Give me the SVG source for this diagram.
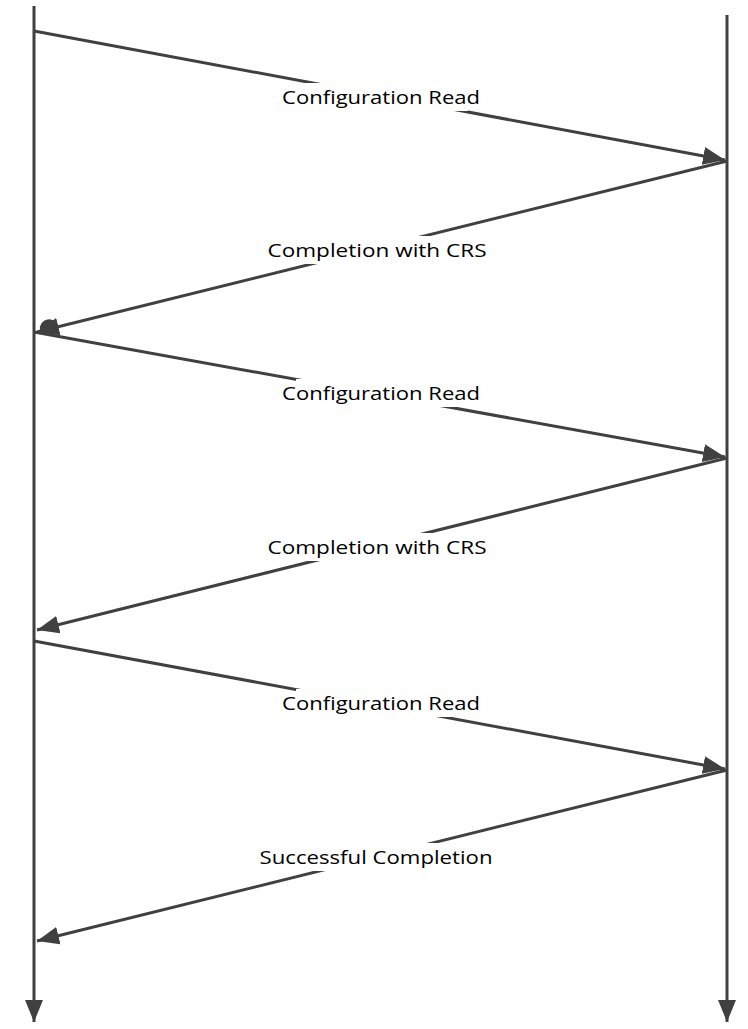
<svg xmlns="http://www.w3.org/2000/svg" width="748" height="1029" viewBox="0 0 748 1029">
<style>
.ln{stroke:#404040;stroke-width:3;fill:none}
.msg{stroke:#404040;stroke-width:3;fill:none;marker-end:url(#ah)}
.lbl{font-family:"Open Sans","Liberation Sans",sans-serif;font-size:19px;fill:#000;text-anchor:middle}
.bg{fill:#fff}
</style>
<defs>
<marker id="ah" markerUnits="userSpaceOnUse" markerWidth="24" markerHeight="20" refX="22" refY="9" orient="auto" viewBox="0 0 24 20">
<path d="M0,0 L22,9 L0,18 z" fill="#404040"/>
</marker>
</defs>
<g id="lifeline-left"><line class="ln" x1="34" y1="6" x2="34" y2="1022" style="marker-end:url(#ah)"/></g>
<g id="lifeline-right"><line class="ln" x1="727" y1="15" x2="727" y2="1022" style="marker-end:url(#ah)"/></g>
<g id="connectors">
<line class="msg" x1="34" y1="31" x2="725" y2="160"/>
<line class="msg" x1="727" y1="161" x2="37" y2="332"/>
<line class="msg" x1="34" y1="332" x2="725" y2="457"/>
<line class="msg" x1="727" y1="458" x2="37" y2="630"/>
<line class="msg" x1="34" y1="641" x2="725" y2="769"/>
<line class="msg" x1="727" y1="770" x2="37" y2="941"/>
<path d="M41,330 A8,8 0 0 1 57,327" fill="#404040" stroke="#404040" stroke-width="2"/>
</g>
<g id="label1"><rect class="bg" x="296" y="83" width="172" height="28"/><text class="lbl" x="381" y="104" textLength="198" lengthAdjust="spacingAndGlyphs">Configuration Read</text></g>
<g id="label2"><rect class="bg" x="280" y="236" width="196" height="28"/><text class="lbl" x="377" y="257" textLength="219" lengthAdjust="spacingAndGlyphs">Completion with CRS</text></g>
<g id="label3"><rect class="bg" x="296" y="379" width="172" height="28"/><text class="lbl" x="381" y="400" textLength="198" lengthAdjust="spacingAndGlyphs">Configuration Read</text></g>
<g id="label4"><rect class="bg" x="280" y="533" width="196" height="28"/><text class="lbl" x="377" y="554" textLength="219" lengthAdjust="spacingAndGlyphs">Completion with CRS</text></g>
<g id="label5"><rect class="bg" x="296" y="689" width="172" height="28"/><text class="lbl" x="381" y="710" textLength="198" lengthAdjust="spacingAndGlyphs">Configuration Read</text></g>
<g id="label6"><rect class="bg" x="272" y="843" width="210" height="28"/><text class="lbl" x="376" y="864" textLength="233" lengthAdjust="spacingAndGlyphs">Successful Completion</text></g>
</svg>
